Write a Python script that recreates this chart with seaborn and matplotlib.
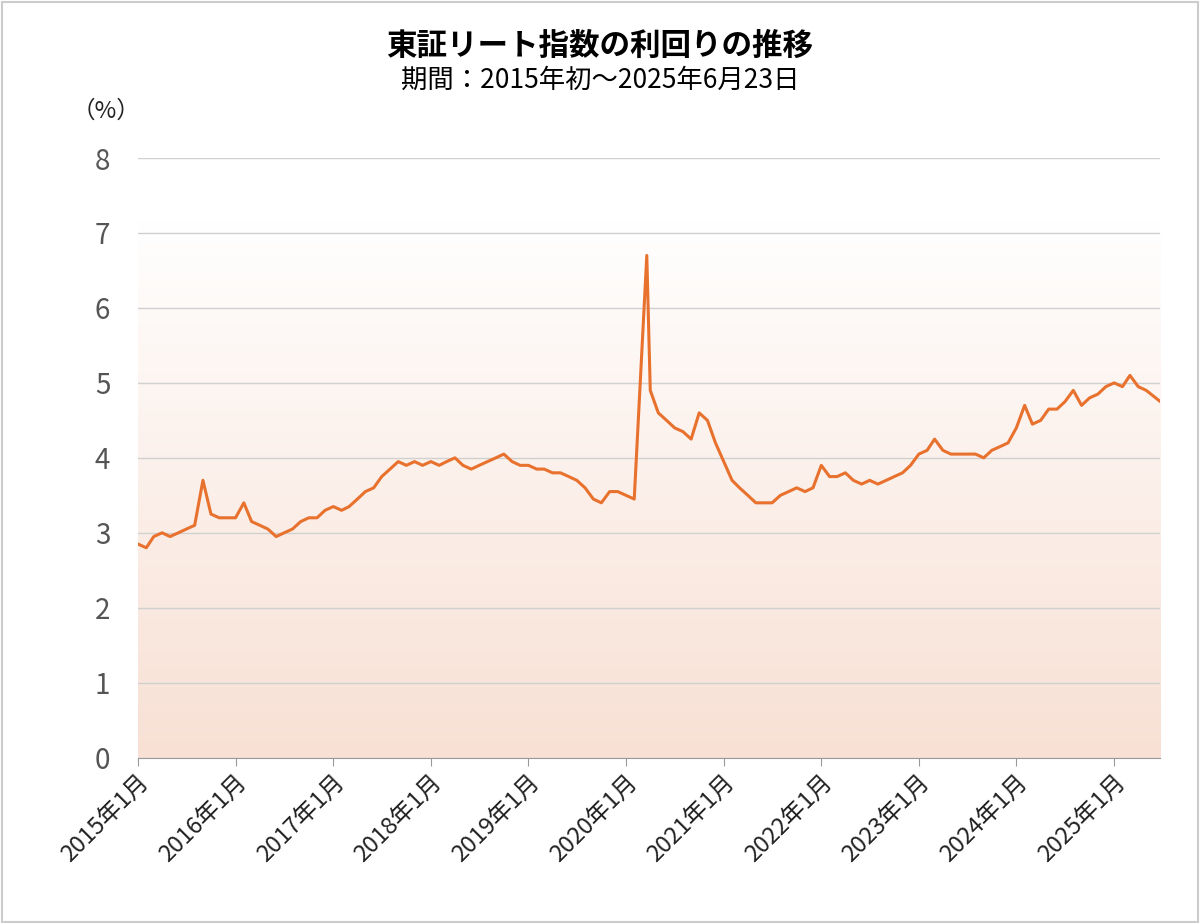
import numpy as np
import pandas as pd
import matplotlib
matplotlib.use("Agg")
import matplotlib.pyplot as plt
import matplotlib.dates as mdates
from matplotlib.colors import LinearSegmentedColormap
import seaborn as sns

plt.rcParams["font.family"] = "Noto Sans CJK JP"

# monthly yield (%)
y2015 = [2.85, 2.80, 2.95, 3.00, 2.95, 3.00, 3.05, 3.10, 3.70, 3.25, 3.20, 3.20]
y2016 = [3.20, 3.40, 3.15, 3.10, 3.05, 2.95, 3.00, 3.05, 3.15, 3.20, 3.20, 3.30]
y2017 = [3.35, 3.30, 3.35, 3.45, 3.55, 3.60, 3.75, 3.85, 3.95, 3.90, 3.95, 3.90]
y2018 = [3.95, 3.90, 3.95, 4.00, 3.90, 3.85, 3.90, 3.95, 4.00, 4.05, 3.95, 3.90]
y2019 = [3.90, 3.85, 3.85, 3.80, 3.80, 3.75, 3.70, 3.60, 3.45, 3.40, 3.55, 3.55]
y2020 = [3.50, 3.45, 6.70, 4.90, 4.60, 4.50, 4.40, 4.35, 4.25, 4.60, 4.50, 4.20]
y2021 = [3.95, 3.70, 3.60, 3.50, 3.40, 3.40, 3.40, 3.50, 3.55, 3.60, 3.55, 3.60]
y2022 = [3.90, 3.75, 3.75, 3.80, 3.70, 3.65, 3.70, 3.65, 3.70, 3.75, 3.80, 3.90]
y2023 = [4.05, 4.10, 4.25, 4.10, 4.05, 4.05, 4.05, 4.05, 4.00, 4.10, 4.15, 4.20]
y2024 = [4.40, 4.70, 4.45, 4.50, 4.65, 4.65, 4.75, 4.90, 4.70, 4.80, 4.85, 4.95]
y2025 = [5.00, 4.95, 5.10, 4.95, 4.90, 4.75]

values = (y2015 + y2016 + y2017 + y2018 + y2019 + y2020 + y2021 + y2022
          + y2023 + y2024 + y2025)
dates = list(pd.date_range("2015-01-01", periods=len(values) - 1, freq="MS")) + [pd.Timestamp("2025-06-23")]
# spike lands mid-March 2020
dates = [pd.Timestamp("2020-03-19") if d == pd.Timestamp("2020-03-01") else d for d in dates]
df = pd.DataFrame({"date": dates, "yield": values})

tick_years = list(range(2015, 2026))
tick_labels = [f"{y}年1月" for y in tick_years]

fig = plt.figure(figsize=(12, 9.24), dpi=100)
fig.patches.append(plt.Rectangle((0.002, 0.002), 0.996, 0.996, transform=fig.transFigure,
                                 fill=False, edgecolor="#cccccc", lw=1.5))
ax = fig.add_axes([0.115, 0.18, 0.852, 0.649])

xmin, xmax = mdates.date2num(pd.Timestamp("2015-01-01")), mdates.date2num(pd.Timestamp("2025-06-23"))
cmap = LinearSegmentedColormap.from_list("g", ["#f8e0d4", "#ffffff"])
grad = np.linspace(0, 1, 256).reshape(-1, 1)
ax.imshow(grad, cmap=cmap, origin="lower", aspect="auto",
          extent=[xmin, xmax, 0, 7.2], zorder=0)

sns.lineplot(data=df, x="date", y="yield", ax=ax, color="#e8712e", lw=2.2, zorder=3)

ax.set_xlim(xmin, xmax)
ax.set_ylim(0, 8)
ax.set_yticks(range(0, 9))
ax.grid(axis="y", color="#d0d0d0", lw=1)
ax.set_axisbelow(False)
for s in ["top", "right", "left"]:
    ax.spines[s].set_visible(False)
ax.spines["bottom"].set_color("#999999")
ax.set_xticks([mdates.date2num(pd.Timestamp(f"{y}-01-01")) for y in tick_years])
ax.set_xticklabels(tick_labels, rotation=45, ha="right", rotation_mode="anchor", fontsize=17)
ax.tick_params(axis="x", length=6, color="#999999", colors="#222222")
ax.tick_params(axis="y", length=0, labelsize=20, colors="#555555", pad=20)
ax.set_xlabel("")
ax.set_ylabel("")

fig.text(0.5, 0.95, "東証リート指数の利回りの推移", ha="center", va="center",
         fontsize=22, fontweight="bold")
fig.text(0.5, 0.913, "期間：2015年初～2025年6月23日", ha="center", va="center", fontsize=19)
fig.text(0.088, 0.88, "（%）", ha="center", va="center", fontsize=17, color="#222222")

fig.savefig("out.png", dpi=100)
